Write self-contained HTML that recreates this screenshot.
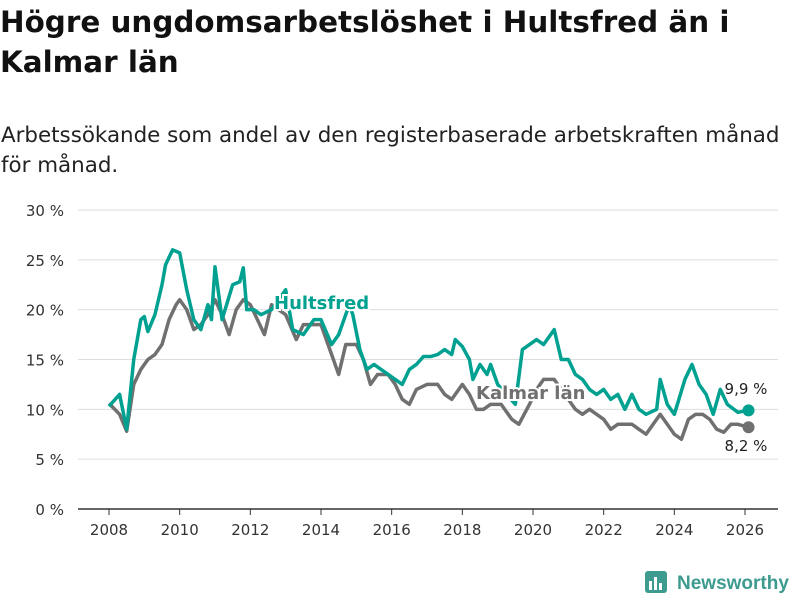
<!DOCTYPE html>
<html><head><meta charset="utf-8">
<style>
body{margin:0;background:#fff;font-family:"DejaVu Sans","Liberation Sans",sans-serif;}
#wrap{position:relative;width:800px;height:600px;overflow:hidden;}
h1{position:absolute;left:0;top:2px;margin:0;font-size:29.4px;line-height:40px;font-weight:bold;color:#111;white-space:nowrap;}
.sub{position:absolute;left:1px;top:121px;margin:0;font-size:21.4px;line-height:30px;color:#222;white-space:nowrap;}
</style></head><body>
<div id="wrap">
<h1>Högre ungdomsarbetslöshet i Hultsfred än i<br>Kalmar län</h1>
<p class="sub">Arbetssökande som andel av den registerbaserade arbetskraften månad<br>för månad.</p>
<svg id="chart" width="800" height="600" style="position:absolute;left:0;top:0"></svg>
</div>
<script>
const yTicks=[0,5,10,15,20,25,30];
const xTicks=[2008,2010,2012,2014,2016,2018,2020,2022,2024,2026];
const hDates=[2008,2008.3,2008.5,2008.7,2008.9,2009,2009.1,2009.3,2009.5,2009.6,2009.8,2010,2010.2,2010.4,2010.6,2010.8,2010.9,2011,2011.2,2011.5,2011.7,2011.8,2011.9,2012.1,2012.3,2012.6,2013,2013.2,2013.5,2013.8,2014,2014.3,2014.5,2014.8,2014.9,2015.1,2015.3,2015.5,2015.7,2015.9,2016.1,2016.3,2016.5,2016.7,2016.9,2017.1,2017.3,2017.5,2017.7,2017.8,2018,2018.2,2018.3,2018.5,2018.7,2018.8,2019,2019.5,2019.7,2019.9,2020.1,2020.3,2020.5,2020.6,2020.8,2021,2021.2,2021.4,2021.6,2021.8,2022,2022.2,2022.4,2022.6,2022.8,2023,2023.2,2023.5,2023.6,2023.8,2024,2024.3,2024.5,2024.7,2024.9,2025.1,2025.3,2025.5,2025.8,2026.1];
const hultsfred=[10.3,11.5,8,15,19,19.3,17.8,19.5,22.5,24.5,26,25.7,22,19,18,20.5,19,24.3,19,22.5,22.8,24.2,20,20,19.5,20,22,18,17.5,19,19,16.5,17.5,20.5,19.5,16,14,14.5,14,13.5,13,12.5,14,14.5,15.3,15.3,15.5,16,15.5,17,16.3,15,13,14.5,13.5,14.5,12.5,10.5,16,16.5,17,16.5,17.5,18,15,15,13.5,13,12,11.5,12,11,11.5,10,11.5,10,9.5,10,13,10.5,9.5,13,14.5,12.5,11.5,9.5,12,10.5,9.7,9.9];
const kDates=[2008,2008.3,2008.5,2008.7,2008.9,2009.1,2009.3,2009.5,2009.7,2009.9,2010,2010.2,2010.4,2010.6,2010.8,2011,2011.2,2011.4,2011.6,2011.8,2012,2012.2,2012.4,2012.6,2012.8,2013,2013.3,2013.5,2013.8,2014,2014.3,2014.5,2014.7,2015,2015.2,2015.4,2015.6,2015.9,2016.1,2016.3,2016.5,2016.7,2017,2017.3,2017.5,2017.7,2018,2018.2,2018.4,2018.6,2018.8,2019.1,2019.4,2019.6,2019.9,2020.1,2020.3,2020.6,2020.8,2021,2021.2,2021.4,2021.6,2021.8,2022,2022.2,2022.4,2022.6,2022.8,2023,2023.2,2023.4,2023.6,2023.8,2024,2024.2,2024.4,2024.6,2024.8,2025,2025.2,2025.4,2025.6,2025.8,2026.1];
const kalmar=[10.6,9.5,7.8,12.5,14,15,15.5,16.5,19,20.5,21,20,18,18.5,19.5,21,19.5,17.5,20,21,20.5,19,17.5,20.5,20,19.5,17,18.5,18.5,18.5,15.5,13.5,16.5,16.5,15,12.5,13.5,13.5,12.5,11,10.5,12,12.5,12.5,11.5,11,12.5,11.5,10,10,10.5,10.5,9,8.5,10.5,12,13,13,12,11,10,9.5,10,9.5,9,8,8.5,8.5,8.5,8,7.5,8.5,9.5,8.5,7.5,7,9,9.5,9.5,9,8,7.7,8.5,8.5,8.2];

const svg=document.getElementById('chart');
const NS='http://www.w3.org/2000/svg';
const X0=78,X1=778;
const xS=d=>109+(d-2008)*(745-109)/18;
const yS=v=>509-v*(509-210)/30;
function mk(t,a){const e=document.createElementNS(NS,t);for(const k in a)e.setAttribute(k,a[k]);svg.appendChild(e);return e;}
yTicks.forEach(t=>{
  const l=mk('line',{x1:X0,x2:X1,y1:yS(t),y2:yS(t),stroke:t===0?'#333':'#ddd','stroke-width':t===0?1.5:1});
  
  
  const tx=mk('text',{x:64,y:yS(t)+6,'text-anchor':'end','font-size':15,fill:'#333'});
  tx.textContent=t+' %';
  
  
});
xTicks.forEach(t=>{
  const l=mk('line',{x1:xS(t),x2:xS(t),y1:509,y2:515,stroke:'#333','stroke-width':1});
  
  
  const tx=mk('text',{x:xS(t),y:535,'text-anchor':'middle','font-size':15,fill:'#333'});
  tx.textContent=t;
  
  
});
function line(ds,vs,col,name){
  const p=mk('polyline',{points:ds.map((d,i)=>xS(d)+','+yS(vs[i])).join(' '),fill:'none',stroke:col,'stroke-width':3.5,'stroke-linejoin':'round'});
  
  
  const n=ds.length-1;
  const c=mk('circle',{cx:xS(ds[n]),cy:yS(vs[n]),r:6,fill:col});
  
  
}
line(kDates,kalmar,'#707070','kalmar-line');
line(hDates,hultsfred,'#00a190','hultsfred-line');
function lbl(x,y,t,col,name,bold,anchor){
  const a={x:x,y:y,'font-size':bold?18:15,'font-weight':bold?'bold':'normal',fill:col,'text-anchor':anchor||'start'};
  if(bold){a.stroke='#fff';a['stroke-width']=4;a['paint-order']='stroke';}
  const e=mk('text',a);e.textContent=t;
  
  
}
lbl(274,309,'Hultsfred','#00a190','hultsfred-label',true);
lbl(476,399,'Kalmar län','#707070','kalmar-label',true);
lbl(746,394,'9,9 %','#222','hultsfred-end-value',false,'middle');
lbl(746,451,'8,2 %','#222','kalmar-end-value',false,'middle');
const g=mk('g',{});


g.innerHTML='<rect x="645" y="571" width="22" height="22" rx="3" fill="#3d9b8f"/><rect x="649" y="581" width="3" height="9" fill="#fff"/><rect x="654" y="577" width="3" height="13" fill="#fff"/><rect x="659" y="583" width="3" height="7" fill="#fff"/><text x="677" y="589" font-size="19" font-weight="bold" font-family="Liberation Sans, sans-serif" fill="#3d9b8f">Newsworthy</text>';
</script>
</body></html>
